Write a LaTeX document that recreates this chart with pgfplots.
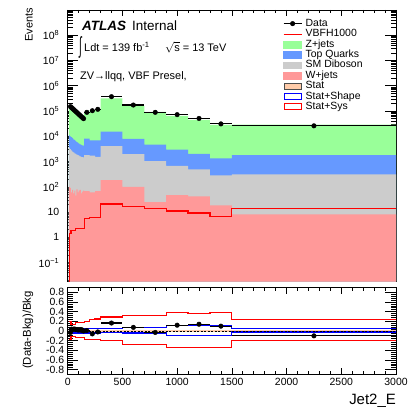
\documentclass[border=0pt]{standalone}
\usepackage{fontspec}
\setmainfont{Liberation Sans}
\usepackage{graphicx}
\usepackage{pgfplots}
\pgfplotsset{compat=1.18}
\usepackage{pgfplotstable}

\definecolor{zjets}{RGB}{153,255,153}
\definecolor{topq}{RGB}{102,153,255}
\definecolor{dibos}{RGB}{204,204,204}
\definecolor{wjets}{RGB}{255,153,153}
\definecolor{statc}{RGB}{255,204,170}

% stacked backgrounds (cumulative tops), bin left edges; last row closes the final bin
\pgfplotstableread{
edge tot top dib wj sig
10 1.600e5 1.10e4 3.6e3 100 1e-3
20 1.546e5 1.00e4 3.1e3 90 1.4
30 1.317e5 9.2e3 2.8e3 60 1.9
40 1.214e5 8.4e3 2.5e3 75 1.9
50 1.096e5 7.6e3 2.3e3 55 1.9
60 1.000e5 7.0e3 2.1e3 70 1.9
70 9.22e4 6.4e3 2.0e3 45 2.2
80 8.45e4 5.9e3 1.9e3 80 2.2
90 7.75e4 5.5e3 1.8e3 60 2.2
100 6.99e4 5.1e3 1.7e3 70 2.2
110 6.47e4 4.8e3 1.6e3 75 2.2
120 5.83e4 4.6e3 1.55e3 55 2.2
130 5.45e4 4.4e3 1.5e3 65 2.2
140 5.00e4 4.3e3 1.45e3 70 2.2
150 8.81e4 8.0e3 1.8e3 67 5.5
200 1.096e5 6.9e3 1.7e3 60 6.1
250 1.194e5 6.9e3 1.55e3 68 6.1
300 3.176e5 1.53e4 4.1e3 184 21
500 1.609e5 7.9e3 1.96e3 100 17
700 9.18e4 4.7e3 1.04e3 25 13.6
900 6.43e4 3.0e3 680 47 11
1100 4.47e4 2.0e3 490 42 9.2
1300 2.82e4 1.35e3 282 18.5 6.8
1500 2.89e4 1.8e3 310 8.1 13.6
3000 2.89e4 1.8e3 310 8.1 13.6
}\bkgtab

% data: bin centre, half width, events, (data-bkg)/bkg
\pgfplotstableread{
xc xe data r
25 5 1.50e5 -0.03
35 5 1.37e5 0.04
45 5 1.25e5 0.03
55 5 1.14e5 0.04
65 5 1.04e5 0.04
75 5 9.5e4 0.03
85 5 8.7e4 0.03
95 5 7.9e4 0.02
105 5 7.2e4 0.03
115 5 6.6e4 0.02
125 5 6.0e4 0.03
135 5 5.5e4 0.01
145 5 5.0e4 0.00
175 25 8.9e4 0.01
225 25 1.03e5 -0.06
275 25 1.17e5 -0.02
400 100 3.7e5 0.165
600 100 1.73e5 0.075
800 100 8.9e4 -0.03
1000 100 7.2e4 0.12
1200 100 5.1e4 0.14
1400 100 3.1e4 0.10
2250 750 2.6e4 -0.10
}\datatab

% uncertainty bands on the ratio
\pgfplotstableread{
edge sysup sysdn shup shdn
10 0.20 -0.18 0.05 -0.04
30 0.14 -0.12 0.05 -0.04
70 0.17 -0.14 0.05 -0.04
150 0.20 -0.17 0.05 -0.04
200 0.23 -0.17 0.05 -0.04
250 0.25 -0.17 0.05 -0.04
300 0.29 -0.20 0.055 -0.03
500 0.32 -0.28 0.08 -0.04
700 0.32 -0.28 0.08 -0.04
900 0.39 -0.34 0.12 -0.09
1100 0.37 -0.34 0.12 -0.09
1300 0.39 -0.34 0.12 -0.09
1500 0.23 -0.20 0.055 -0.02
3000 0.23 -0.20 0.055 -0.02
}\bandtab

\pgfplotsset{
  rootframe/.style={
    scale only axis,
    width=328.3bp,
    xmin=0, xmax=3000,
    axis line style={line width=0.8bp},
    tick style={black, line width=0.6bp},
    tick align=inside,
    xtick pos=both, ytick pos=both,
    xtick={0,500,1000,1500,2000,2500,3000},
    minor x tick num=4,
    xtick style={/pgfplots/major tick length=6.5bp,/pgfplots/minor tick length=3.3bp},
    ytick style={/pgfplots/major tick length=10.7bp,/pgfplots/minor tick length=5.3bp},
    tick label style={font=\fontsize{10.5}{12}\selectfont},
  },
  hist/.style={const plot mark left, mark=none},
}

\begin{document}
\begin{tikzpicture}[x=1bp,y=1bp]

% ---------------- main panel ----------------
\begin{axis}[rootframe,
  at={(67.7bp,126.3bp)}, anchor=south west,
  height=271.7bp,
  ymode=log, ymin=0.01754, ymax=1e9,
  log origin y=infty,
  xticklabels={},
  ytick={1e-1,1,10,1e2,1e3,1e4,1e5,1e6,1e7,1e8},
  yticklabels={10\textsuperscript{−1},1,10,10\textsuperscript{2},10\textsuperscript{3},10\textsuperscript{4},10\textsuperscript{5},10\textsuperscript{6},10\textsuperscript{7},10\textsuperscript{8}},
  yticklabel style={xshift=-5bp},
  minor ytick={2e-2,3e-2,4e-2,5e-2,6e-2,7e-2,8e-2,9e-2,
    2e-1,3e-1,4e-1,5e-1,6e-1,7e-1,8e-1,9e-1,
    2,3,4,5,6,7,8,9,
    20,30,40,50,60,70,80,90,
    200,300,400,500,600,700,800,900,
    2e3,3e3,4e3,5e3,6e3,7e3,8e3,9e3,
    2e4,3e4,4e4,5e4,6e4,7e4,8e4,9e4,
    2e5,3e5,4e5,5e5,6e5,7e5,8e5,9e5,
    2e6,3e6,4e6,5e6,6e6,7e6,8e6,9e6,
    2e7,3e7,4e7,5e7,6e7,7e7,8e7,9e7,
    2e8,3e8,4e8,5e8,6e8,7e8,8e8,9e8},
  legend style={
    at={(axis description cs:0.656,0.969)}, anchor=north west,
    draw=none, fill=none, inner sep=0pt, outer sep=0pt,
    font=\fontsize{10.5}{10.5}\selectfont,
    row sep=0pt, column sep=3.5bp,
    nodes={inner sep=0pt, text height=7.8bp, text depth=2.6bp},
  },
  legend cell align=left,
]
\addlegendimage{legend image code/.code={\draw[black,line width=1.1bp](0bp,0bp)--(18bp,0bp);\fill[black](9bp,0bp) circle (2.3bp);}}
\addlegendentry{Data}
\addlegendimage{legend image code/.code={\draw[red,line width=0.6bp](0bp,0bp)--(18bp,0bp);}}
\addlegendentry{VBFH1000}
\addlegendimage{legend image code/.code={\fill[zjets](0bp,-3.3bp) rectangle (18bp,3.3bp);}}
\addlegendentry{Z+jets}
\addlegendimage{legend image code/.code={\fill[topq](0bp,-3.3bp) rectangle (18bp,3.3bp);}}
\addlegendentry{Top Quarks}
\addlegendimage{legend image code/.code={\fill[dibos](0bp,-3.3bp) rectangle (18bp,3.3bp);}}
\addlegendentry{SM Diboson}
\addlegendimage{legend image code/.code={\fill[wjets](0bp,-3.3bp) rectangle (18bp,3.3bp);}}
\addlegendentry{W+jets}
\addlegendimage{legend image code/.code={\filldraw[fill=statc,draw=black!70,line width=0.8bp](0.5bp,-3bp) rectangle (17.5bp,3bp);}}
\addlegendentry{Stat}
\addlegendimage{legend image code/.code={\filldraw[fill=white,draw=blue,line width=0.9bp](0.5bp,-3bp) rectangle (17.5bp,3bp);}}
\addlegendentry{Stat+Shape}
\addlegendimage{legend image code/.code={\filldraw[fill=white,draw=red,line width=0.9bp](0.5bp,-3bp) rectangle (17.5bp,3bp);}}
\addlegendentry{Stat+Sys}

% stacked backgrounds, drawn from the full stack down
\addplot[forget plot, hist, fill=zjets, draw=none] table[x=edge,y=tot]{\bkgtab} \closedcycle;
\addplot[forget plot, hist, fill=topq, draw=none] table[x=edge,y=top]{\bkgtab} \closedcycle;
\addplot[forget plot, hist, fill=dibos, draw=none] table[x=edge,y=dib]{\bkgtab} \closedcycle;
\addplot[forget plot, hist, fill=wjets, draw=none] table[x=edge,y=wj]{\bkgtab} \closedcycle;

% signal
\addplot[forget plot, hist, red, line width=1.2bp] table[x=edge,y=sig]{\bkgtab};

% data
\addplot[forget plot, only marks, mark=*, mark size=2.3bp, black,
  error bars/.cd, x dir=both, x explicit, error mark=none,
  error bar style={line width=1.2bp, black}]
  table[x=xc, y=data, x error=xe]{\datatab};
\end{axis}

% ---------------- ratio panel ----------------
\begin{axis}[rootframe,
  at={(67.7bp,33.5bp)}, anchor=south west,
  height=87bp,
  ymin=-0.9, ymax=0.9,
  xticklabels={0,500,1000,1500,2000,2500,3000},
  ytick={-0.8,-0.6,-0.4,-0.2,0,0.2,0.4,0.6,0.8},
  yticklabels={-0.8,-0.6,-0.4,-0.2,0,0.2,0.4,0.6,0.8},
  minor y tick num=4,
]
\addplot[forget plot, mark=none, fill=statc, draw=none] coordinates {(10,-0.012) (3000,-0.012) (3000,0.012) (10,0.012)};
\addplot[forget plot, hist, blue, line width=1.2bp] table[x=edge,y=shup]{\bandtab};
\addplot[forget plot, hist, blue, line width=1.2bp] table[x=edge,y=shdn]{\bandtab};
\addplot[forget plot, hist, red, line width=1.2bp] table[x=edge,y=sysup]{\bandtab};
\addplot[forget plot, hist, red, line width=1.2bp] table[x=edge,y=sysdn]{\bandtab};
\addplot[forget plot, mark=none, black, line width=0.8bp, dash pattern=on 2bp off 1.5bp] coordinates {(0,0) (3000,0)};
\addplot[forget plot, only marks, mark=*, mark size=2.3bp, black,
  error bars/.cd, x dir=both, x explicit, error mark=none,
  error bar style={line width=1.2bp, black}]
  table[x=xc, y=r, x error=xe]{\datatab};
\end{axis}

% ---------------- titles and labels ----------------
\node[rotate=90, anchor=east, inner sep=0pt, font=\fontsize{11}{13}\selectfont] at (29,400) {Events};
\node[rotate=90, inner sep=0pt, font=\fontsize{11.4}{13}\selectfont] at (28,78) {(Data-Bkg)/Bkg};
\node[anchor=base east, inner sep=0pt, font=\fontsize{15}{17}\selectfont] at (396,4) {Jet2\_E};

\node[anchor=base west, inner sep=0pt, font=\fontsize{13.5}{15}\selectfont\bfseries\itshape] at (82,378) {ATLAS};
\node[anchor=base west, inner sep=0pt, font=\fontsize{13.5}{15}\selectfont] at (132,378) {Internal};
\node[inner sep=0pt, font=\fontsize{11}{13}\selectfont] at (80.5,361) {\scalebox{0.9}[2.1]{∫}};
\node[anchor=base west, inner sep=0pt, font=\fontsize{11}{13}\selectfont] at (84,357) {Ldt = 139 fb\textsuperscript{-1}};
\node[anchor=base west, inner sep=0pt, font=\fontsize{11}{13}\selectfont] at (165,357) {$\sqrt{\mbox{s}}$ = 13 TeV};
\node[anchor=base west, inner sep=0pt, font=\fontsize{11}{13}\selectfont] at (80,329) {ZV→llqq, VBF Presel,};

% page frame
\pgfresetboundingbox
\path[use as bounding box] (0,0) rectangle (419,408);
\end{tikzpicture}
\end{document}
